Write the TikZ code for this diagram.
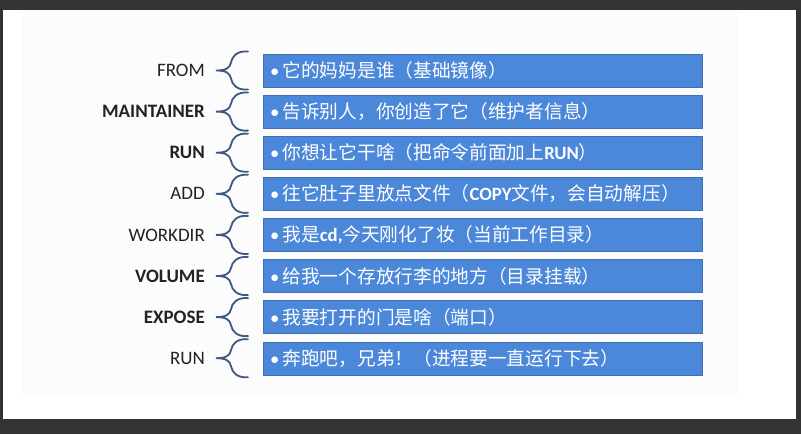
\documentclass[tikz,border=0pt]{standalone}
\usepackage{fontspec}
\setmainfont{Carlito}
\newfontfamily\cjk{Noto Sans CJK SC}
\usetikzlibrary{positioning}
\definecolor{screen}{RGB}{51,51,51}
\definecolor{slide}{RGB}{252,252,253}
\definecolor{boxblue}{RGB}{76,136,218}
\definecolor{boxedge}{RGB}{66,112,180}
\definecolor{bracecol}{RGB}{62,88,128}
\definecolor{labelcol}{RGB}{34,34,34}

\begin{document}
\begin{tikzpicture}[x=1pt,y=-1pt,node distance=7.7pt,
			entry/.style={draw=boxedge,fill=boxblue,text=white,align=left,text width=425pt,inner xsep=7pt,inner ysep=0pt,minimum height=33pt,font=\fontsize{18.7}{20}\selectfont},
			cmd/.style={inner sep=0pt,text=labelcol,font=\fontsize{19}{20}\selectfont},
			cmdbold/.style={cmd,font=\fontsize{19}{20}\selectfont\bfseries},
			openbrace/.pic={\draw[bracecol,line width=1.8pt,line cap=round]
				(-15,-19) .. controls (-26,-20) and (-31,-14) .. (-32,-8)
				.. controls (-33,-2) and (-38,0) .. (-47,0)
				.. controls (-38,0) and (-33,2) .. (-32,8)
				.. controls (-31,14) and (-26,20) .. (-15,19);}]
			\useasboundingbox (0,0) rectangle (801,434);
			% screenshot frame
			\fill[screen] (0,0) rectangle (801,434);
			\fill[white] (3,10) rectangle (796,419);
			\fill[slide] (22,10) rectangle (738,396);
			% instruction boxes
			\node[entry, anchor=west] (b1) at (263,70.5) {\textbullet\hspace{3pt}{\cjk 它的妈妈是谁（基础镜像）}};
			\node[entry, below=of b1] (b2) {\textbullet\hspace{3pt}{\cjk 告诉别人，你创造了它（维护者信息）}};
			\node[entry, below=of b2] (b3) {\textbullet\hspace{3pt}{\cjk 你想让它干啥（把命令前面加上{\rmfamily\bfseries RUN}）}};
			\node[entry, below=of b3] (b4) {\textbullet\hspace{3pt}{\cjk 往它肚子里放点文件（{\rmfamily\bfseries COPY}文件，会自动解压）}};
			\node[entry, below=of b4] (b5) {\textbullet\hspace{3pt}{\cjk 我是{\rmfamily\bfseries cd,}今天刚化了妆（当前工作目录）}};
			\node[entry, below=of b5] (b6) {\textbullet\hspace{3pt}{\cjk 给我一个存放行李的地方（目录挂载）}};
			\node[entry, below=of b6] (b7) {\textbullet\hspace{3pt}{\cjk 我要打开的门是啥（端口）}};
			\node[entry, below=of b7] (b8) {\textbullet\hspace{3pt}{\cjk 奔跑吧，兄弟！（进程要一直运行下去）}};
			% dockerfile keywords
			\node[cmd, left=58pt of b1] (from) {FROM};
			\node[cmdbold, left=58pt of b2] (maintainer) {MAINTAINER};
			\node[cmdbold, left=58pt of b3] (run) {RUN};
			\node[cmd, left=58pt of b4] (add) {ADD};
			\node[cmd, left=58pt of b5] (workdir) {WORKDIR};
			\node[cmdbold, left=58pt of b6] (volume) {VOLUME};
			\node[cmdbold, left=58pt of b7] (expose) {EXPOSE};
			\node[cmd, left=58pt of b8] (runlast) {RUN};
			% braces
			\pic at (b1.west) {openbrace};
			\pic at (b2.west) {openbrace};
			\pic at (b3.west) {openbrace};
			\pic at (b4.west) {openbrace};
			\pic at (b5.west) {openbrace};
			\pic at (b6.west) {openbrace};
			\pic at (b7.west) {openbrace};
			\pic at (b8.west) {openbrace};
		\end{tikzpicture}
\end{document}
